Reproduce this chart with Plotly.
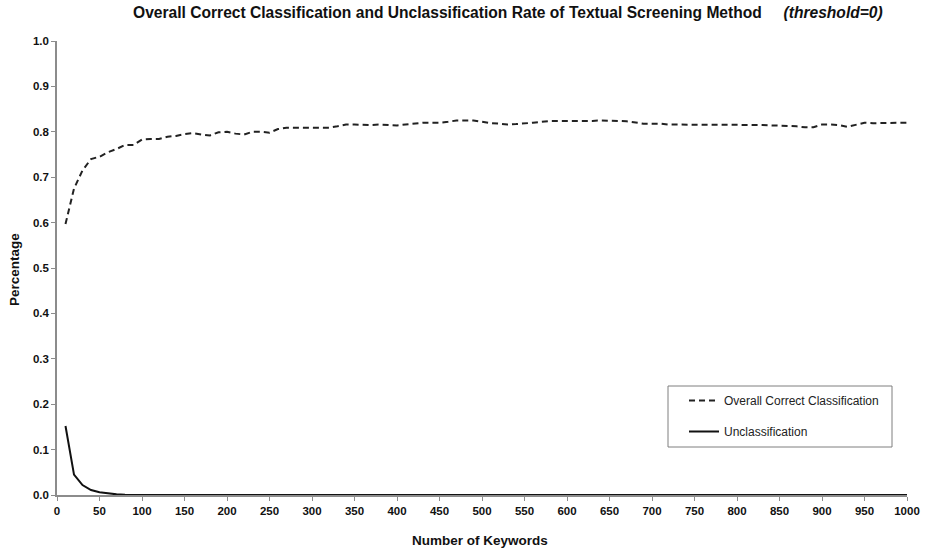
import plotly.graph_objects as go

keywords = list(range(10, 1001, 10))

overall_correct = [
    0.597, 0.675, 0.715, 0.740, 0.745, 0.755, 0.762, 0.771, 0.771, 0.783,
    0.784, 0.784, 0.789, 0.791, 0.795, 0.797, 0.794, 0.792, 0.799, 0.800,
    0.796, 0.794, 0.800, 0.800, 0.798, 0.806, 0.809, 0.809, 0.809, 0.809,
    0.809, 0.809, 0.812, 0.816, 0.816, 0.815, 0.815, 0.816, 0.815, 0.814,
    0.816, 0.818, 0.820, 0.820, 0.820, 0.822, 0.825, 0.825, 0.825, 0.822,
    0.819, 0.818, 0.816, 0.817, 0.818, 0.820, 0.822, 0.824, 0.824, 0.824,
    0.823, 0.823, 0.824, 0.825, 0.825, 0.824, 0.823, 0.820, 0.818, 0.818,
    0.818, 0.816, 0.816, 0.816, 0.816, 0.816, 0.816, 0.816, 0.816, 0.815,
    0.815, 0.815, 0.815, 0.814, 0.814, 0.813, 0.812, 0.810, 0.810, 0.816,
    0.816, 0.815, 0.811, 0.815, 0.820, 0.819, 0.819, 0.819, 0.819, 0.820,
]

unclassification = [
    0.152, 0.045, 0.022, 0.011, 0.006, 0.003, 0.0015, 0.0008, 0.0003, 0.0,
] + [0.0] * 90

x_ticks = list(range(0, 1001, 50))
y_ticks = [round(i * 0.1, 1) for i in range(11)]

title_main = "Overall Correct Classification and Unclassification Rate of Textual Screening Method"
title_sub = "(threshold=0)"
x_title = "Number of Keywords"
y_title = "Percentage"
legend_names = ["Overall Correct Classification", "Unclassification"]

FONT = "Liberation Sans, Arial, sans-serif"
AXIS_COLOR = "#8c8c8c"

fig = go.Figure()
fig.add_trace(go.Scatter(
    x=keywords, y=overall_correct, mode="lines", name=legend_names[0],
    line=dict(color="#222222", width=2, dash="6px,4px"),
    legendgroup="a",
))
fig.add_trace(go.Scatter(
    x=keywords, y=unclassification, mode="lines", name=legend_names[1],
    line=dict(color="#111111", width=2),
    legendgroup="b",
))

L, R, T, B = 57, 18, 41, 55
W, H = 925, 550
pw, ph = W - L - R, H - T - B


def px_x(p):
    return (p - L) / pw


def px_y(p):
    return (H - B - p) / ph


fig.update_layout(
    width=W, height=H,
    margin=dict(l=L, r=R, t=T, b=B, autoexpand=False),
    paper_bgcolor="white", plot_bgcolor="white",
    font=dict(family=FONT, color="#111111"),
    showlegend=True,
    legend=dict(
        x=px_x(684), y=px_y(386), xanchor="left", yanchor="top",
        bgcolor="rgba(0,0,0,0)", borderwidth=0,
        font=dict(family=FONT, size=12, color="#222222"),
        traceorder="grouped", tracegroupgap=12,
    ),
    xaxis=dict(
        range=[0, 1000], tickvals=x_ticks, ticktext=[str(v) for v in x_ticks],
        automargin=False,
        showgrid=False, zeroline=False, showline=True, linecolor=AXIS_COLOR, linewidth=1.5,
        ticks="outside", ticklen=4, tickcolor=AXIS_COLOR,
        tickfont=dict(family=FONT, size=11.5, weight="bold", color="#111111"),
    ),
    yaxis=dict(
        range=[0, 1.0], tickvals=y_ticks, ticktext=[f"{v:.1f}" for v in y_ticks],
        automargin=False,
        showgrid=False, zeroline=False, showline=True, linecolor=AXIS_COLOR, linewidth=1.5,
        ticks="outside", ticklen=4, tickcolor=AXIS_COLOR,
        tickfont=dict(family=FONT, size=11.5, weight="bold", color="#111111"),
    ),
    shapes=[dict(
        type="rect", xref="paper", yref="paper",
        x0=px_x(668), x1=px_x(892), y0=px_y(447), y1=px_y(386),
        line=dict(color="#7f7f7f", width=1), fillcolor="rgba(0,0,0,0)",
    )],
    annotations=[
        dict(
            text=f"<b>{title_main}</b>     <b><i>{title_sub}</i></b>",
            xref="paper", yref="paper", x=px_x(508), y=px_y(13),
            xanchor="center", yanchor="middle", showarrow=False,
            font=dict(family=FONT, size=15.6, color="#111111"),
        ),
        dict(
            text=f"<b>{x_title}</b>", xref="paper", yref="paper",
            x=px_x(480), y=px_y(540), xanchor="center", yanchor="middle",
            showarrow=False, font=dict(family=FONT, size=13.5, color="#111111"),
        ),
        dict(
            text=f"<b>{y_title}</b>", xref="paper", yref="paper",
            x=px_x(14), y=px_y(270), xanchor="center", yanchor="middle",
            textangle=-90, showarrow=False, font=dict(family=FONT, size=13.5, color="#111111"),
        ),
    ],
)

fig.write_html("out.html")
